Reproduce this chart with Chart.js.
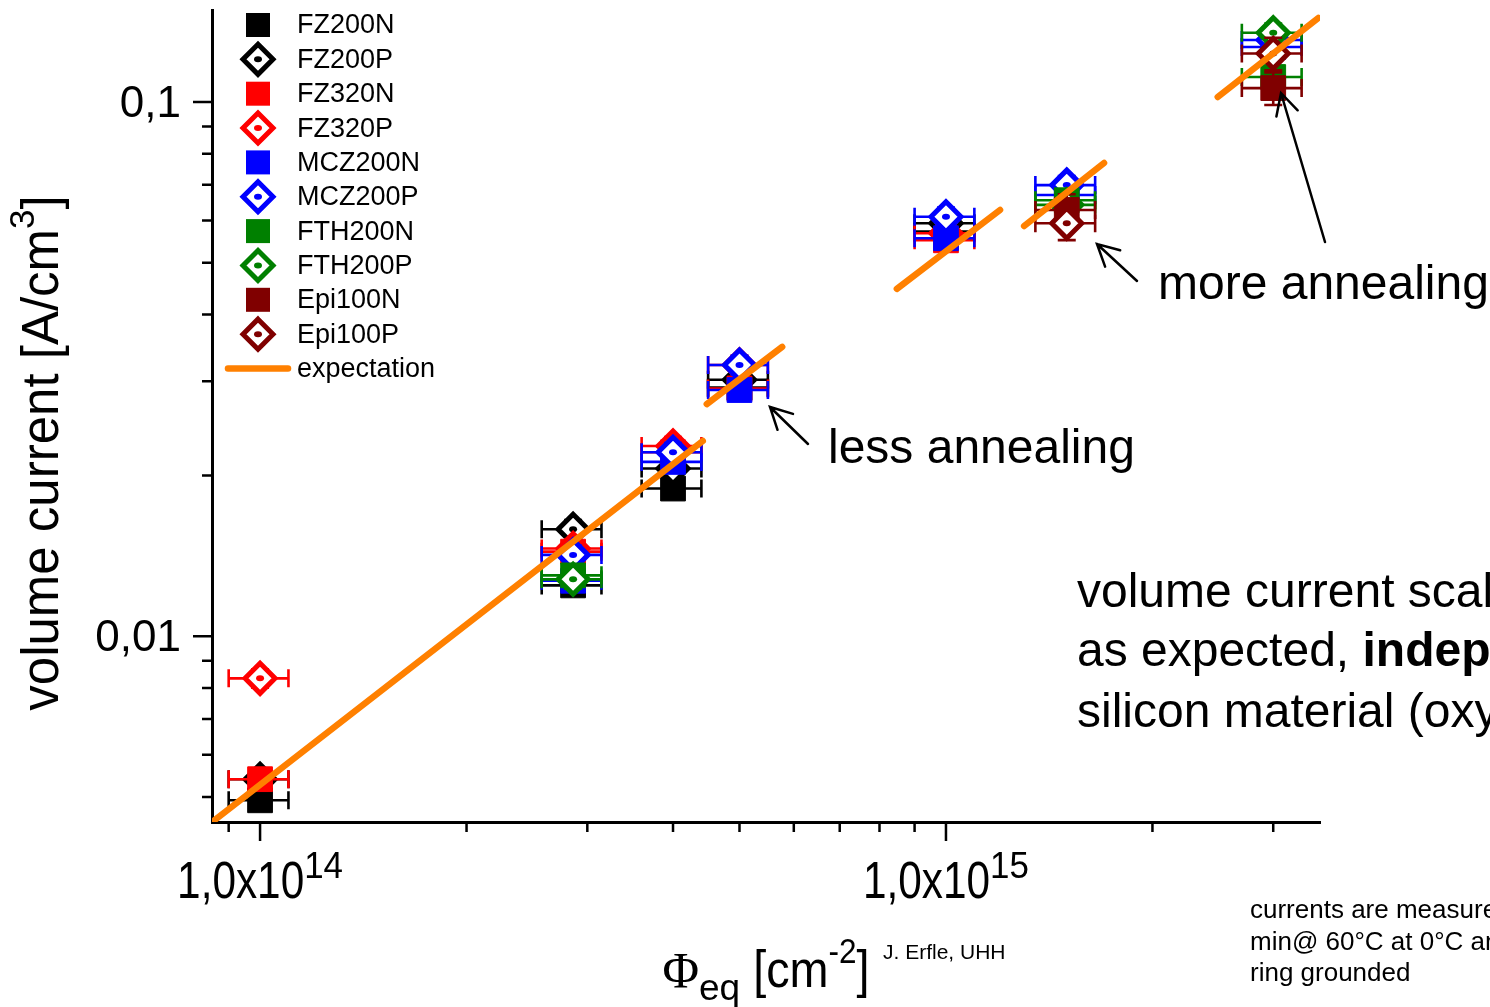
<!DOCTYPE html>
<html>
<head>
<meta charset="utf-8">
<script src="https://cdn.jsdelivr.net/npm/chart.js@4.4.0/dist/chart.umd.min.js"></script>
<style>
  html, body { margin: 0; padding: 0; background: #fff; }
  #wrap { position: relative; width: 1490px; height: 1007px; }
</style>
</head>
<body>
<div id="wrap"><canvas id="chart"></canvas></div>
<script>
// fluence values (cm^-2) where measurements exist
const fluence = [1e14, 2.86e14, 4e14, 5e14, 1e15, 1.5e15, 3e15];

// volume current [A/cm^3] per material, null = not measured
const fz200n  = [0.00493, 0.01245, 0.0189, 0.0292, 0.0572, null,   null];
const fz200p  = [0.0054,  0.01586, 0.0206, 0.0302, 0.0593, null,   null];
const fz320n  = [0.0054,  0.0144,  0.0221, 0.0291, 0.0551, null,   null];
const fz320p  = [0.00834, 0.0146,  0.0227, 0.0322, 0.0568, null,   null];
const mcz200n = [null,    0.0127,  0.0212, 0.0289, 0.0556, 0.0670, 0.1268];
const mcz200p = [null,    0.0142,  0.0221, 0.0322, 0.0610, 0.0699, 0.1307];
const fth200n = [null,    0.0130,  null,   null,   null,   0.0655, 0.1114];
const fth200p = [null,    0.01278, null,   null,   null,   0.0642, 0.1348];
const epi100n = [null,    null,    null,   null,   null,   0.0628, 0.1062];
const epi100p = [null,    null,    null,   null,   null,   0.0593, 0.1233];

const seriesNames = ['FZ200N', 'FZ200P', 'FZ320N', 'FZ320P', 'MCZ200N', 'MCZ200P', 'FTH200N', 'FTH200P', 'Epi100N', 'Epi100P'];
const seriesValues = [fz200n, fz200p, fz320n, fz320p, mcz200n, mcz200p, fth200n, fth200p, epi100n, epi100p];
const seriesColors = ['#000000', '#000000', '#ff0000', '#ff0000', '#0000ff', '#0000ff', '#008000', '#008000', '#800000', '#800000'];

// relative errors
const xErrRel = 0.1;
const yErrRel = [0.04, 0.04, 0.04, 0.04, 0.04, 0.04, 0.04, 0.04, 0.07, 0.07];

// expectation segments (start / end)
const expStartX = [0.857e14, 4.48e14, 0.848e15, 1.30e15, 2.49e15];
const expStartY = [0.00452, 0.0272, 0.0447, 0.0586, 0.1022];
const expEndX   = [4.42e14, 5.77e14, 1.199e15, 1.70e15, 3.49e15];
const expEndY   = [0.0232, 0.0348, 0.0628, 0.0769, 0.1437];

// axis ranges and ticks
const xMin = 0.851e14, xMax = 3.51e15;
const yMin = 0.00449, yMax = 0.1487;
const xMajorTicks = [1e14, 1e15];
const xMinorTicks = [9e13, 2e14, 3e14, 4e14, 5e14, 6e14, 7e14, 8e14, 9e14, 2e15, 3e15];
const yMajorTicks = [0.01, 0.1];
const yMinorTicks = [0.005, 0.006, 0.007, 0.008, 0.009, 0.02, 0.03, 0.04, 0.05, 0.06, 0.07, 0.08, 0.09];
const yTickLabels = ['0,01', '0,1'];

const SANS = '"Liberation Sans", Arial, sans-serif';
const SERIF = '"Liberation Serif", "DejaVu Serif", serif';
const ORANGE = '#ff8000';

const datasets = seriesNames.map((name, i) => {
  const filled = name.endsWith('N');
  const pts = [];
  fluence.forEach((f, j) => {
    if (seriesValues[i][j] != null) pts.push({ x: f, y: seriesValues[i][j], xe: xErrRel, ye: yErrRel[i] });
  });
  return {
    type: 'scatter',
    label: name,
    data: pts,
    pointStyle: filled ? 'rect' : 'rectRot',
    pointRadius: filled ? 17.5 : 15,
    pointHoverRadius: filled ? 17.5 : 15,
    backgroundColor: filled ? seriesColors[i] : '#ffffff',
    borderColor: seriesColors[i],
    borderWidth: filled ? 1 : 5,
    showLine: false,
    order: 20 - i,
    errorBars: true,
    centerDot: !filled
  };
});

const expData = [];
expStartX.forEach((x, i) => {
  expData.push({ x: x, y: expStartY[i] });
  expData.push({ x: expEndX[i], y: expEndY[i] });
  expData.push({ x: expEndX[i], y: null });
});
datasets.push({
  type: 'line',
  label: 'expectation',
  data: expData,
  borderColor: ORANGE,
  borderWidth: 6.5,
  borderCapStyle: 'round',
  pointRadius: 0,
  spanGaps: false,
  fill: false,
  order: 0
});

function fontOf(r) {
  return (r.bold ? 'bold ' : '') + r.size + 'px ' + (r.family || SANS);
}
function runsWidth(ctx, runs) {
  let w = 0;
  runs.forEach(r => { ctx.font = fontOf(r); w += ctx.measureText(r.t).width * (r.sx || 1); });
  return w;
}
function drawRuns(ctx, runs, x, y) {
  let cx = x;
  runs.forEach(r => {
    ctx.save();
    ctx.font = fontOf(r);
    ctx.fillStyle = '#000';
    ctx.textBaseline = 'alphabetic';
    ctx.textAlign = 'left';
    ctx.translate(cx, y + (r.dy || 0));
    ctx.scale(r.sx || 1, 1);
    ctx.fillText(r.t, 0, 0);
    const w = ctx.measureText(r.t).width * (r.sx || 1);
    ctx.restore();
    cx += w;
  });
}
function arrow(ctx, x1, y1, x2, y2) {
  const a = Math.atan2(y2 - y1, x2 - x1);
  const len = 24, spread = 0.48;
  ctx.save();
  ctx.strokeStyle = '#000';
  ctx.lineWidth = 2.5;
  ctx.lineCap = 'round';
  ctx.beginPath();
  ctx.moveTo(x1, y1);
  ctx.lineTo(x2, y2);
  ctx.moveTo(x2 - len * Math.cos(a - spread), y2 - len * Math.sin(a - spread));
  ctx.lineTo(x2, y2);
  ctx.lineTo(x2 - len * Math.cos(a + spread), y2 - len * Math.sin(a + spread));
  ctx.stroke();
  ctx.restore();
}

const errorBarPlugin = {
  id: 'errorBars',
  beforeDatasetDraw(chart, args) {
    const ds = chart.data.datasets[args.index];
    if (!ds.errorBars) return;
    const xs = chart.scales.x, ys = chart.scales.y, ctx = chart.ctx;
    ctx.save();
    ctx.strokeStyle = ds.borderColor;
    ctx.lineWidth = 2.6;
    const cap = 9;
    ds.data.forEach(p => {
      const px = xs.getPixelForValue(p.x), py = ys.getPixelForValue(p.y);
      const xl = xs.getPixelForValue(p.x * (1 - p.xe)), xr = xs.getPixelForValue(p.x * (1 + p.xe));
      const yt = ys.getPixelForValue(p.y * (1 + p.ye)), yb = ys.getPixelForValue(p.y * (1 - p.ye));
      ctx.beginPath();
      ctx.moveTo(xl, py); ctx.lineTo(xr, py);
      ctx.moveTo(xl, py - cap); ctx.lineTo(xl, py + cap);
      ctx.moveTo(xr, py - cap); ctx.lineTo(xr, py + cap);
      ctx.moveTo(px, yt); ctx.lineTo(px, yb);
      ctx.moveTo(px - cap, yt); ctx.lineTo(px + cap, yt);
      ctx.moveTo(px - cap, yb); ctx.lineTo(px + cap, yb);
      ctx.stroke();
    });
    ctx.restore();
  },
  afterDatasetDraw(chart, args) {
    const ds = chart.data.datasets[args.index];
    if (!ds.centerDot) return;
    const ctx = chart.ctx;
    ctx.save();
    ctx.fillStyle = ds.borderColor;
    args.meta.data.forEach(el => {
      ctx.beginPath();
      ctx.ellipse(el.x, el.y, 4, 3, 0, 0, Math.PI * 2);
      ctx.fill();
    });
    ctx.restore();
  }
};

const decorPlugin = {
  id: 'decor',
  afterDraw(chart) {
    const ctx = chart.ctx, xs = chart.scales.x, ys = chart.scales.y, area = chart.chartArea;
    ctx.save();
    ctx.strokeStyle = '#000';
    ctx.lineWidth = 2.5;
    ctx.beginPath();
    xMajorTicks.forEach(v => { const x = xs.getPixelForValue(v); ctx.moveTo(x, area.bottom); ctx.lineTo(x, area.bottom + 19); });
    xMinorTicks.forEach(v => { const x = xs.getPixelForValue(v); ctx.moveTo(x, area.bottom); ctx.lineTo(x, area.bottom + 10); });
    yMajorTicks.forEach(v => { const y = ys.getPixelForValue(v); ctx.moveTo(area.left, y); ctx.lineTo(area.left - 19, y); });
    yMinorTicks.forEach(v => { const y = ys.getPixelForValue(v); ctx.moveTo(area.left, y); ctx.lineTo(area.left - 10, y); });
    ctx.stroke();
    ctx.restore();

    // tick labels
    ctx.save();
    ctx.fillStyle = '#000';
    ctx.font = '44px ' + SANS;
    ctx.textAlign = 'right';
    ctx.textBaseline = 'alphabetic';
    yMajorTicks.forEach((v, i) => ctx.fillText(yTickLabels[i], area.left - 31, ys.getPixelForValue(v) + 15));
    ctx.restore();
    xMajorTicks.forEach(v => {
      const exp = String(Math.round(Math.log10(v)));
      const runs = [{ t: '1,0x10', size: 51, sx: 0.83 }, { t: exp, size: 36, sx: 0.97, dy: -20 }];
      const w = runsWidth(ctx, runs);
      drawRuns(ctx, runs, xs.getPixelForValue(v) - w / 2, area.bottom + 76);
    });

    // axis titles
    const xt = [
      { t: '\u03A6', size: 50, family: SERIF },
      { t: 'eq', size: 37, dy: 13 },
      { t: ' [cm', size: 52, sx: 0.9 },
      { t: '-2', size: 35, sx: 0.9, dy: -24 },
      { t: ']', size: 52, sx: 0.9 }
    ];
    const xw = runsWidth(ctx, xt);
    drawRuns(ctx, xt, (area.left + area.right) / 2 - xw / 2, 987);
    drawRuns(ctx, [{ t: 'J. Erfle, UHH', size: 21 }], 883, 959);

    const yt = [
      { t: 'volume current [A/cm', size: 51 },
      { t: '3', size: 35, dy: -24 },
      { t: ']', size: 51 }
    ];
    const yw = runsWidth(ctx, yt);
    ctx.save();
    ctx.translate(58, 453);
    ctx.rotate(-Math.PI / 2);
    drawRuns(ctx, yt, -yw / 2, 0);
    ctx.restore();

    // legend
    ctx.save();
    const lx = 258, tx = 297, ly0 = 25, dy = 34.35;
    seriesNames.forEach((name, i) => {
      const y = ly0 + i * dy;
      const c = seriesColors[i];
      if (name.endsWith('N')) {
        ctx.fillStyle = c;
        ctx.fillRect(lx - 12, y - 12, 24, 24);
      } else {
        const r = 15;
        ctx.beginPath();
        ctx.moveTo(lx, y - r); ctx.lineTo(lx + r, y); ctx.lineTo(lx, y + r); ctx.lineTo(lx - r, y); ctx.closePath();
        ctx.fillStyle = '#fff'; ctx.fill();
        ctx.strokeStyle = c; ctx.lineWidth = 5; ctx.stroke();
        ctx.fillStyle = c;
        ctx.beginPath(); ctx.ellipse(lx, y, 4, 3, 0, 0, Math.PI * 2); ctx.fill();
      }
      ctx.fillStyle = '#000';
      ctx.font = '27px ' + SANS;
      ctx.textBaseline = 'middle';
      ctx.fillText(name, tx, y + 1);
    });
    const ey = ly0 + 10 * dy;
    ctx.strokeStyle = ORANGE; ctx.lineWidth = 6.5; ctx.lineCap = 'round';
    ctx.beginPath(); ctx.moveTo(228, ey); ctx.lineTo(288, ey); ctx.stroke();
    ctx.fillStyle = '#000';
    ctx.font = '27px ' + SANS;
    ctx.textBaseline = 'middle';
    ctx.fillText('expectation', tx, ey + 1);
    ctx.restore();

    // annotations
    drawRuns(ctx, [{ t: 'less annealing', size: 48 }], 828, 463);
    drawRuns(ctx, [{ t: 'more annealing', size: 48 }], 1158, 299);
    arrow(ctx, 808, 444, 770, 407);
    arrow(ctx, 1137, 281, 1097, 244);
    arrow(ctx, 1325, 242, 1281, 93);

    drawRuns(ctx, [{ t: 'volume current scales', size: 48 }], 1077, 607);
    drawRuns(ctx, [{ t: 'as expected, ', size: 48 }, { t: 'independent of', size: 48, bold: true }], 1077, 666);
    drawRuns(ctx, [{ t: 'silicon material (oxygen)', size: 48 }], 1077, 727);

    drawRuns(ctx, [{ t: 'currents are measured after 80', size: 26 }], 1250, 918);
    drawRuns(ctx, [{ t: 'min@ 60\u00B0C at 0\u00B0C and guard', size: 26 }], 1250, 950);
    drawRuns(ctx, [{ t: 'ring grounded', size: 26 }], 1250, 981);
  }
};

new Chart(document.getElementById('chart'), {
  type: 'scatter',
  data: { datasets: datasets },
  options: {
    responsive: true,
    maintainAspectRatio: false,
    animation: false,
    events: [],
    layout: { autoPadding: false, padding: { top: 10, right: 170, left: 0, bottom: 0 } },
    plugins: { legend: { display: false }, tooltip: { enabled: false } },
    scales: {
      x: {
        type: 'logarithmic',
        min: xMin,
        max: xMax,
        bounds: 'data',
        grid: { display: false },
        border: { display: true, color: '#000', width: 3 },
        ticks: { display: false },
        afterFit(scale) { scale.height = 185; }
      },
      y: {
        type: 'logarithmic',
        min: yMin,
        max: yMax,
        bounds: 'data',
        grid: { display: false },
        border: { display: true, color: '#000', width: 3 },
        ticks: { display: false },
        afterFit(scale) { scale.width = 212; }
      }
    }
  },
  plugins: [errorBarPlugin, decorPlugin]
});
</script>
</body>
</html>
